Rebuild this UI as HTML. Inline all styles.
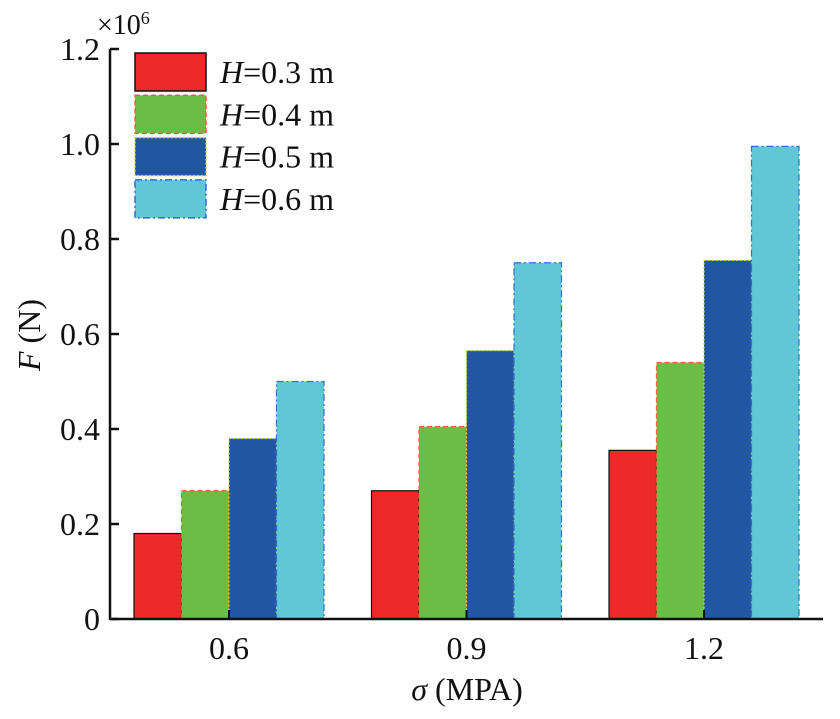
<!DOCTYPE html>
<html><head><meta charset="utf-8"><style>
body{margin:0;background:#fff}
svg text{font-family:"Liberation Serif",serif;fill:#111}
</style></head><body>
<svg width="840" height="714">
<g id="bars"></g>
<g id="axes"></g>
<text x="97" y="34" font-size="28" style="font-size:28px">×10<tspan font-size="18" style="font-size:18px" dy="-10">6</tspan></text>
<text transform="translate(40,335) rotate(-90)" text-anchor="middle" font-size="32" style="font-size:32px"><tspan font-style="italic">F</tspan> (N)</text>
<text x="467" y="700" text-anchor="middle" font-size="32" style="font-size:32px"><tspan font-style="italic">σ</tspan> (MPA)</text>
<g id="legend"></g>
</svg>
<script>
const categories=["0.6","0.9","1.2"];
const seriesNames=["0.3","0.4","0.5","0.6"];
const s03=[0.18,0.27,0.355];
const s04=[0.27,0.405,0.54];
const s05=[0.38,0.565,0.755];
const s06=[0.5,0.75,0.995];
const yTicks=[0,0.2,0.4,0.6,0.8,1.0,1.2];
const yTickLabels=["0","0.2","0.4","0.6","0.8","1.0","1.2"];
const series=[s03,s04,s05,s06];
const fills=["#ee2a29","#6cbd45","#2156a5","#5fc8d4"];
const strokes=["#111","#f0623a","#c9d24a","#2f6fd0"];
const dashes=["","5,3","2,2","7,3,2,3"];
const NS="http://www.w3.org/2000/svg";
const y0=619,yTop=49,xL=110,xR=823;
function ys(v){return y0-(v/1.2)*(y0-yTop);}
function xc(i){return 229+i*237.5;}
const bw=47.5;
function mk(t,a,p){const e=document.createElementNS(NS,t);for(const k in a)e.setAttribute(k,a[k]);p.appendChild(e);return e;}
const gb=document.getElementById('bars');
series.forEach((s,si)=>{s.forEach((v,ci)=>{
 const x=xc(ci)+(si-2)*bw;
 const r=mk('rect',{x:x,y:ys(v),width:bw,height:y0-ys(v),fill:fills[si],stroke:strokes[si],'stroke-width':1.2,'stroke-dasharray':dashes[si]},gb);
 
 
});});
const ga=document.getElementById('axes');
mk('line',{x1:xL,y1:yTop,x2:xL,y2:y0+1,stroke:'#111','stroke-width':2.5},ga);
mk('line',{x1:xL,y1:y0,x2:xR,y2:y0,stroke:'#111','stroke-width':2.5},ga);
yTicks.forEach((v,i)=>{
 const y=ys(v);
 mk('line',{x1:xL,y1:y,x2:xL+9,y2:y,stroke:'#111','stroke-width':2.5},ga);
 const t=mk('text',{x:100,y:y+11,'text-anchor':'end','font-size':32,style:'font-size:32px'},ga);
 t.textContent=yTickLabels[i];
 
 
});
categories.forEach((c,i)=>{
 mk('line',{x1:xc(i),y1:y0,x2:xc(i),y2:y0-9,stroke:'#111','stroke-width':2},ga);
 const t=mk('text',{x:xc(i),y:659,'text-anchor':'middle','font-size':32,style:'font-size:32px'},ga);
 t.textContent=c;
 
 
});
const gl=document.getElementById('legend');
seriesNames.forEach((n,i)=>{
 const y=53+i*42.3;
 const r=mk('rect',{x:135,y:y,width:71,height:38,fill:fills[i],stroke:strokes[i],'stroke-width':1.5,'stroke-dasharray':dashes[i]},gl);
 
 
 const t=mk('text',{x:220,y:y+30,'font-size':32,style:'font-size:32px'},gl);
 t.innerHTML='<tspan font-style="italic">H</tspan>='+n+' m';
 
 
});
</script>
</body></html>
